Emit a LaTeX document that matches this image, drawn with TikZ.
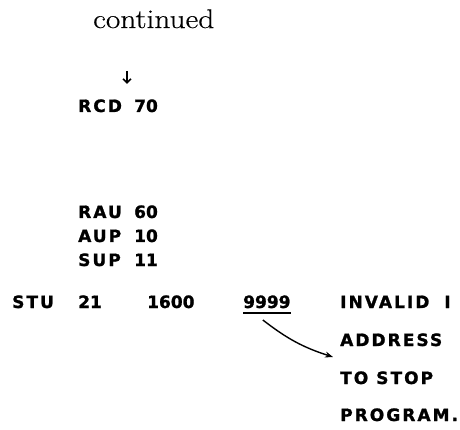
\documentclass[tikz,border=0pt]{standalone}
\usepackage{fontspec}
\usetikzlibrary{arrows.meta}
\newfontfamily\codefont[LetterSpace=12,FakeBold=1.2]{DejaVu Sans}
\newfontfamily\numfont[FakeBold=1.2]{DejaVu Sans}
\newfontfamily\headfont[FakeStretch=1.16,FakeBold=0.4]{Latin Modern Roman}
\tikzset{
  code/.style={anchor=base west, inner sep=0pt, font=\codefont\bfseries\fontsize{17}{20}\selectfont},
  num/.style={anchor=base west, inner sep=0pt, font=\numfont\bfseries\fontsize{17}{20}\selectfont},
  heading/.style={anchor=base west, inner sep=0pt, font=\headfont\fontsize{27}{30}\selectfont},
  pointer/.style={line width=1.4pt, -{Stealth[length=8pt,width=6pt]}},
  flowin/.style={line width=1.3pt, -{Straight Barb[length=4pt,width=8pt,line width=1.6pt]}}
}
\begin{document}
\begin{tikzpicture}[x=1pt,y=-1pt]
\useasboundingbox (0,0) rectangle (460,430);
\fill[white] (0,0) rectangle (460,430);

% heading
\node[heading] (cont) at (93,28) {continued};

% entry into the block
\coordinate (inA) at (127,71);
\coordinate (inB) at (127,84);
\draw[flowin] (inA) -- (inB);

% instruction list
\node[code] (op1) at (78,112) {RCD};
\node[num] (ad1) at (134,112) {70};
\node[code] (op2) at (78,218) {RAU};
\node[num] (ad2) at (134,218) {60};
\node[code] (op3) at (78,242) {AUP};
\node[num] (ad3) at (134,242) {10};
\node[code] (op4) at (78,266) {SUP};
\node[num] (ad4) at (134,266) {11};

% store instruction with its fields
\node[code] (stu) at (12,308) {STU};
\node[num] (d21) at (78,308) {21};
\node[num] (d1600) at (147,308) {1600};
\node[num] (d9999) at (243,308) {9999};
\draw[line width=1.3pt] ([yshift=-5pt]d9999.base west) -- ([yshift=-5pt]d9999.base east);

% remark
\node[code] (r1) at (340,308) {INVALID\hspace{7pt} I};
\node[code] (r2) at (340,346) {ADDRESS};
\node[code] (r3) at (340,384) {TO STOP};
\node[code] (r4) at (340,421) {PROGRAM.};

\draw[pointer] ([xshift=-4pt,yshift=-12pt]d9999.base) to[bend right=10] ([xshift=-7pt,yshift=-11pt]r2.base west);
\end{tikzpicture}
\end{document}
